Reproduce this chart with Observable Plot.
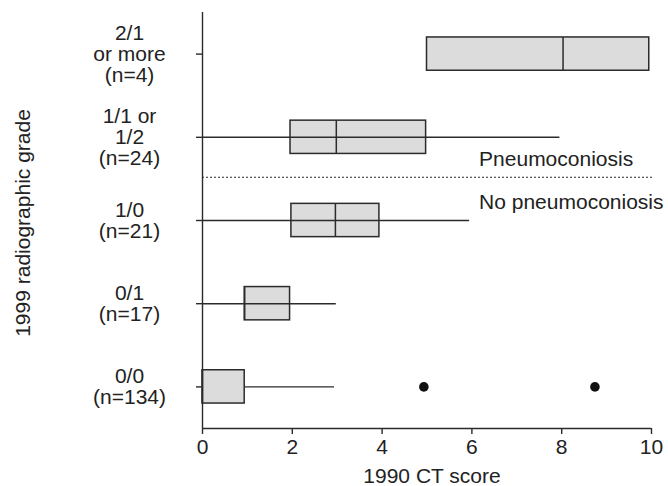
<!DOCTYPE html>
<html>
<head>
<meta charset="utf-8">
<script src="https://cdn.jsdelivr.net/npm/d3@7"></script>
<script src="https://cdn.jsdelivr.net/npm/@observablehq/plot@0.6"></script>
<style>
  html, body { margin: 0; padding: 0; background: #fff; }
</style>
</head>
<body>
<div id="chart"></div>
<script>
// Radiographic grade categories (bottom to top)
const categories = ["0/0", "0/1", "1/0", "1/1", "2/1"];
const tickLabels = ["0/0\n(n=134)", "0/1\n(n=17)", "1/0\n(n=21)", "1/1 or\n1/2\n(n=24)", "2/1\nor more\n(n=4)"];
// Box plot statistics of the 1990 CT score
const q1Values      = [0,    0.94, 1.98, 1.96, 5.0];
const medianValues  = [0,    0.94, 2.96, 2.98, 8.03];
const q3Values      = [0.94, 1.95, 3.94, 4.98, 9.95];
const whiskerLow    = [0.94, 0,    0,    0,    null];
const whiskerHigh   = [2.94, 2.98, 5.95, 7.96, null];
// Outliers
const outlierGrades = ["0/0", "0/0"];
const outlierValues = [4.93, 8.74];
// Axis ticks
const xTicks = [0, 2, 4, 6, 8, 10];
// Group annotation
const groupLabels = ["Pneumoconiosis", "No pneumoconiosis"];

const rows = categories.map((c, i) => ({
  grade: c, idx: i,
  q1: q1Values[i], median: medianValues[i], q3: q3Values[i],
  lo: whiskerLow[i], hi: whiskerHigh[i]
}));
const whiskers = rows.filter(d => d.lo != null);
const outliers = outlierValues.map((v, i) => ({ idx: categories.indexOf(outlierGrades[i]), value: v }));
const half = 0.2;
const boundary = 2.52; // between "1/1" and "1/0"
const ink = "#2b2b2b";

const chart = Plot.plot({
  width: 668,
  height: 486,
  marginLeft: 202,
  marginRight: 17,
  marginTop: 12,
  marginBottom: 58,
  style: { fontFamily: "'Liberation Sans', Arial, Helvetica, sans-serif", fontSize: "21px", color: "#222", background: "#fff", overflow: "visible" },
  x: { domain: [0, 10] },
  y: { domain: [-0.5, 4.5] },
  marks: [
    Plot.rect(rows, { x1: "q1", x2: "q3", y1: d => d.idx - half, y2: d => d.idx + half, fill: "#dcdcdc", stroke: ink, strokeWidth: 1.5 }),
    Plot.ruleX(rows, { x: "median", y1: d => d.idx - half, y2: d => d.idx + half, stroke: ink, strokeWidth: 1.5 }),
    Plot.ruleY(whiskers, { y: "idx", x1: "lo", x2: "hi", stroke: ink, strokeWidth: 1.4 }),
    Plot.dot(outliers, { x: "value", y: "idx", r: 4.8, fill: "#111", stroke: null }),
    Plot.ruleY([boundary], { x1: 0, x2: 10.05, stroke: ink, strokeWidth: 1.2, strokeDasharray: "2,2" }),
    Plot.text([groupLabels[0]], { x: 6.16, y: boundary, text: d => d, textAnchor: "start", lineAnchor: "middle", dy: -18, fill: "#222" }),
    Plot.text([groupLabels[1]], { x: 6.16, y: boundary, text: d => d, textAnchor: "start", lineAnchor: "middle", dy: 25, fill: "#222" }),
    Plot.ruleX([0], { y1: -0.5, y2: 4.5, stroke: ink, strokeWidth: 1.4 }),
    Plot.ruleY([-0.5], { x1: 0, x2: 10, stroke: ink, strokeWidth: 1.4 }),
    Plot.axisX({ ticks: xTicks, tickSize: 6, tickPadding: 5, label: null, stroke: ink, strokeWidth: 1.4, fill: "#222" }),
    Plot.axisY({ ticks: [0, 1, 2, 3, 4], tickFormat: d => tickLabels[d], tickSize: 6, tickPadding: 67, textAnchor: "middle", label: null, stroke: ink, strokeWidth: 1.4, fill: "#222" }),
    Plot.text(["1990 CT score"], { frameAnchor: "bottom", text: d => d, textAnchor: "middle", lineAnchor: "middle", dy: 48, dx: 5, fill: "#222" }),
    Plot.text(["1999 radiographic grade"], { frameAnchor: "left", text: d => d, rotate: -90, textAnchor: "middle", lineAnchor: "middle", dx: -179, dy: 2.5, fill: "#222" })
  ]
});
document.getElementById("chart").appendChild(chart);
</script>
</body>
</html>
